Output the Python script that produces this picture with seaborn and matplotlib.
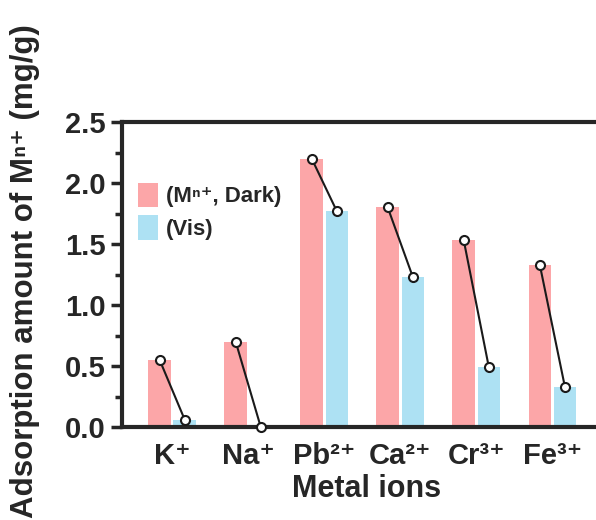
import pandas as pd
import seaborn as sns
import matplotlib
matplotlib.use('Agg')
from matplotlib import pyplot as plt

ions = ['K⁺', 'Na⁺', 'Pb²⁺', 'Ca²⁺', 'Cr³⁺', 'Fe³⁺']
dark = [0.55, 0.70, 2.20, 1.80, 1.53, 1.33]
vis = [0.06, 0.00, 1.77, 1.23, 0.49, 0.33]
labels = ['(Mⁿ⁺, Dark)', '(Vis)']
colors = ['#FCA6A8', '#ADE1F3']

sns.set_style('ticks')
plt.rcParams['font.family'] = ['Liberation Sans', 'DejaVu Sans']
plt.rcParams['font.weight'] = 'bold'

df = pd.DataFrame({
    'ion': ions * 2,
    'value': dark + vis,
    'cond': [labels[0]] * len(ions) + [labels[1]] * len(ions),
})

fig = plt.figure(figsize=(5.96, 5.2), dpi=100)
ax = fig.add_axes([0.2047, 0.1788, 0.819, 0.5865])
sns.barplot(data=df, x='ion', y='value', hue='cond', palette=colors,
            width=0.66, gap=0.1, saturation=1, ax=ax, linewidth=0)

# connect dark -> vis with open circles
c_dark, c_vis = ax.containers[0], ax.containers[1]
for b1, b2 in zip(c_dark, c_vis):
    x1 = b1.get_x() + b1.get_width() / 2
    x2 = b2.get_x() + b2.get_width() / 2
    ax.plot([x1, x2], [b1.get_height(), b2.get_height()], color='#1a1a1a', lw=1.5,
            marker='o', ms=6.5, mfc='white', mec='#1a1a1a', mew=1.5, zorder=5, clip_on=False)

ax.set_xlim(-0.66, 5.76)
ax.set_ylim(0, 2.5)
ax.set_yticks([0, 0.5, 1.0, 1.5, 2.0, 2.5])
ax.set_yticklabels(['0.0', '0.5', '1.0', '1.5', '2.0', '2.5'])
ax.set_yticks([0.25, 0.75, 1.25, 1.75, 2.25], minor=True)
ax.tick_params(axis='y', which='major', length=8, width=2.5, labelsize=21, pad=4)
ax.tick_params(axis='y', which='minor', length=5, width=2.5)
ax.tick_params(axis='x', length=0, labelsize=21, pad=11)
for s in ax.spines.values():
    s.set_linewidth(3)
ax.spines['right'].set_visible(False)

ax.set_xlabel('Metal ions', fontsize=22, fontweight='bold', labelpad=3)
ax.set_ylabel('Adsorption amount of Mⁿ⁺ (mg/g)', fontsize=22.5, fontweight='bold')
ax.yaxis.set_label_coords(-0.168, 0.51)

ax.legend(loc='upper left', bbox_to_anchor=(-0.008, 0.866), frameon=False, fontsize=16,
          handlelength=0.9, handleheight=1.3, labelspacing=0.36, handletextpad=0.35,
          borderaxespad=0.5)

fig.savefig('out.png', dpi=100)
